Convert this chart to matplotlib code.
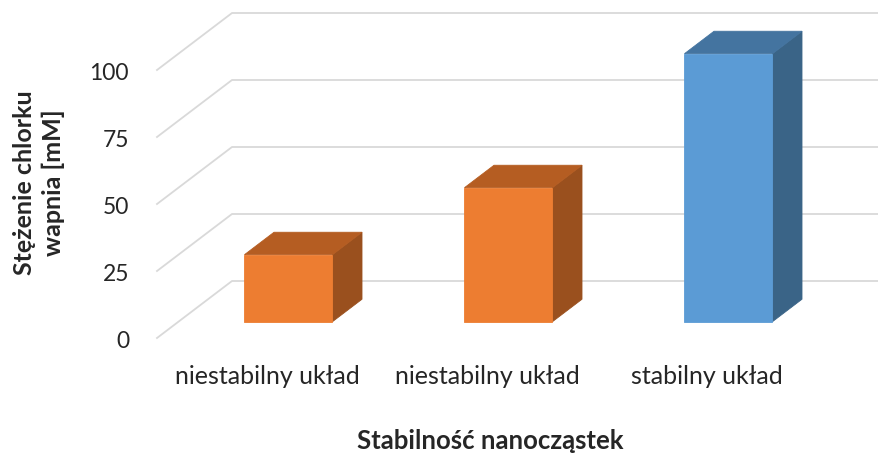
import matplotlib.pyplot as plt
from matplotlib.patches import Polygon

plt.rcParams['font.family'] = ['Lato', 'DejaVu Sans']

# ---- dane ----
kategorie = ['niestabilny układ', 'niestabilny układ', 'stabilny układ']
stezenie = [25, 50, 100]          # mM
yticks = [0, 25, 50, 75, 100]

# ---- kolory (przód, góra, bok) ----
kolory = [
    ('#ED7D31', '#B55D22', '#9A501E'),
    ('#ED7D31', '#B55D22', '#9A501E'),
    ('#5B9BD5', '#4474A0', '#3A6487'),
]
GRID = '#D9D9D9'
TXT = '#262626'

# ---- geometria pseudo-3D ----
PX_X = 220.0        # pikseli na kategorię
PX_Y = 67.0 / 25    # pikseli na jednostkę wartości
DX = 75 / PX_X      # przesunięcie głębi (pełna podłoga) w jednostkach x
DY = 57 / PX_Y      # ... i w jednostkach y
D0, D1 = 0.286, 0.68  # głębokość przedniej i tylnej ściany słupka
W = 0.2             # pół-szerokość słupka

W_FIG, H_FIG = 879, 456
X0_PX, Y0_PX = 157, 339   # lewy przedni róg podłogi (piksele)

fig = plt.figure(figsize=(W_FIG / 100, H_FIG / 100), dpi=100)
ax = fig.add_axes([0, 0, 1, 1])
ax.set_xlim(-0.5 - X0_PX / PX_X, -0.5 + (W_FIG - X0_PX) / PX_X)
ax.set_ylim(-(H_FIG - Y0_PX) / PX_Y, Y0_PX / PX_Y)
ax.axis('off')

# linie siatki: skos po lewej ścianie + pozioma na tylnej
for v in yticks:
    ax.plot([-0.5, -0.5 + DX, 2.5 + DX], [v, v + DY, v + DY],
            color=GRID, lw=1.3, zorder=1)
    ax.text(-0.5 - 28 / PX_X, v - 0.8, str(v), ha='right', va='center',
            fontsize=16.5, color=TXT)

# słupki
for i, (val, (cf, ct, cs)) in enumerate(zip(stezenie, kolory)):
    xl = i - W + D0 * DX
    xr = i + W + D0 * DX
    yb = D0 * DY
    yt = val + D0 * DY
    ddx = (D1 - D0) * DX
    ddy = (D1 - D0) * DY
    front = [(xl, yb), (xr, yb), (xr, yt), (xl, yt)]
    top = [(xl, yt), (xr, yt), (xr + ddx, yt + ddy), (xl + ddx, yt + ddy)]
    side = [(xr, yb), (xr + ddx, yb + ddy), (xr + ddx, yt + ddy), (xr, yt)]
    for pts, c in ((side, cs), (top, ct), (front, cf)):
        ax.add_patch(Polygon(pts, closed=True, facecolor=c, edgecolor=c,
                             lw=0.6, zorder=3))

# etykiety kategorii
for i, lab in enumerate(kategorie):
    ax.annotate(lab, xy=(i, 0), xytext=(0, -38), textcoords='offset pixels',
                ha='center', va='center', fontsize=18, color=TXT)

# tytuły osi
fig.text(490 / W_FIG, 1 - 441 / H_FIG, 'Stabilność nanocząstek',
         ha='center', va='center', fontsize=18.5, fontweight='bold',
         color=TXT)
fig.text(39 / W_FIG, 1 - 183 / H_FIG, 'Stężenie chlorku\nwapnia [mM]',
         ha='center', va='center', rotation=90, fontsize=18,
         fontweight='bold', color=TXT, linespacing=1.3)

fig.savefig('out.png', dpi=100)
